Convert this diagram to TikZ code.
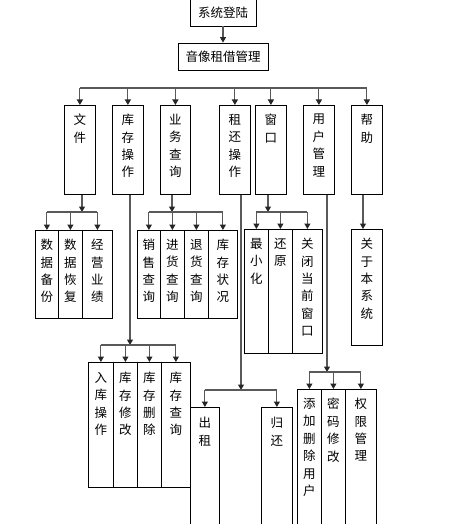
\documentclass[tikz,border=0pt]{standalone}
\usepackage{fontspec}
\newfontfamily\cjk{Noto Sans CJK SC}
\usetikzlibrary{arrows.meta}
\usetikzlibrary{positioning}

\begin{document}
\begin{tikzpicture}[%
  x=1pt, y=-1pt,
  box/.style={draw=black, line width=0.8pt, inner sep=0pt, anchor=north west},
  head box/.style={draw=black, line width=0.8pt, inner sep=0pt, minimum height=27pt,
    font=\cjk\fontsize{12.5}{14}\selectfont},
  caption/.style={inner sep=0pt, anchor=north, align=center,
    font=\cjk\fontsize{12.5}{17.4}\selectfont},
  link/.style={draw=black!65, line width=1.1pt},
  arr/.style={link, -{Triangle[width=6pt,length=5.5pt,color=black!85]}}
  ]
  \useasboundingbox (0,0) rectangle (456,524);

  % Draw the two title boxes
  \node[head box, minimum width=66pt] (sys) at (223,12.5) {系统登陆};
  \node[head box, minimum width=90pt] (mgmt) at (223,56.5) {音像租借管理};
  \draw[arr] (sys) -- (mgmt);

  % Draw the main menu boxes
  \foreach \name / \x / \w / \txt in {wj/64/31/{文\\件}, kc/112/31/{库\\存\\操\\作},
    yw/160/30/{业\\务\\查\\询}, zh/219/31/{租\\还\\操\\作}, ck/255/31/{窗\\口},
    yh/303/31/{用\\户\\管\\理}, bz/351/31/{帮\\助}}
  {
    \node[box, minimum width=\w pt, minimum height=89pt] (\name) at (\x,105) {};
    \node[caption, below=9pt of \name.north] (\name-t) {\txt};
  }
  \coordinate (j-top) at (223,88);
  \draw[link] (wj.north |- j-top) -- (bz.north |- j-top);
  \foreach \name in {wj,kc,yw,zh,ck,yh,bz}
    \draw[arr] (\name.north |- j-top) -- (\name.north);

  % File menu
  \foreach \name / \x / \w / \txt in {sjbf/35/23/{数\\据\\备\\份},
    sjhf/58/24/{数\\据\\恢\\复}, jyyj/82/30/{经\\营\\业\\绩}}
  {
    \node[box, minimum width=\w pt, minimum height=88pt] (\name) at (\x,230) {};
    \node[caption, below=9pt of \name.north] (\name-t) {\txt};
  }
  \coordinate (j-wj) at (82,212);
  \draw[arr] (wj.south -| j-wj) -- (j-wj);
  \draw[link] (sjbf.north |- j-wj) -- (jyyj.north |- j-wj);
  \foreach \name in {sjbf,sjhf,jyyj}
    \draw[arr] (\name.north |- j-wj) -- (\name.north);

  % Query menu
  \foreach \name / \x / \w / \txt in {xscx/137/23/{销\\售\\查\\询},
    jhcx/160/24/{进\\货\\查\\询}, thcx/184/24/{退\\货\\查\\询},
    kczk/208/29/{库\\存\\状\\况}}
  {
    \node[box, minimum width=\w pt, minimum height=88pt] (\name) at (\x,230) {};
    \node[caption, below=9pt of \name.north] (\name-t) {\txt};
  }
  \coordinate (j-yw) at (172,212);
  \draw[arr] (yw.south -| j-yw) -- (j-yw);
  \draw[link] (xscx.north |- j-yw) -- (kczk.north |- j-yw);
  \foreach \name in {xscx,jhcx,thcx,kczk}
    \draw[arr] (\name.north |- j-yw) -- (\name.north);

  % Window menu
  \foreach \name / \x / \w / \txt in {zxh/244/24/{最\\小\\化}, hy/268/24/{还\\原},
    gbck/292/30/{关\\闭\\当\\前\\窗\\口}}
  {
    \node[box, minimum width=\w pt, minimum height=124pt] (\name) at (\x,229) {};
    \node[caption, below=9pt of \name.north] (\name-t) {\txt};
  }
  \coordinate (j-ck) at (268,212);
  \draw[arr] (ck.south -| j-ck) -- (j-ck);
  \draw[link] (zxh.north |- j-ck) -- (gbck.north |- j-ck);
  \foreach \name in {zxh,hy,gbck}
    \draw[arr] (\name.north |- j-ck) -- (\name.north);

  % Help menu
  \node[box, minimum width=31pt, minimum height=116pt] (gy) at (351,229) {};
  \node[caption, below=9pt of gy.north] (gy-t) {关\\于\\本\\系\\统};
  \coordinate (j-bz) at (363,229);
  \draw[arr] (bz.south -| j-bz) -- (j-bz);

  % Stock menu
  \foreach \name / \x / \w / \txt in {rkcz/88/25/{入\\库\\操\\作},
    kcxg/113/24/{库\\存\\修\\改}, kcsc/137/24/{库\\存\\删\\除},
    kccx/161/29/{库\\存\\查\\询}}
  {
    \node[box, minimum width=\w pt, minimum height=125pt] (\name) at (\x,362) {};
    \node[caption, below=10pt of \name.north] (\name-t) {\txt};
  }
  \coordinate (j-kc) at (130,345);
  \draw[arr] (kc.south -| j-kc) -- (j-kc);
  \draw[link] (rkcz.north |- j-kc) -- (kccx.north |- j-kc);
  \foreach \name in {rkcz,kcxg,kcsc,kccx}
    \draw[arr] (\name.north |- j-kc) -- (\name.north);

  % Rent and return menu
  \foreach \name / \x / \w / \txt in {cz/190/29/{出\\租}, gh/261/31/{归\\还}}
  {
    \node[box, minimum width=\w pt, minimum height=140pt] (\name) at (\x,407) {};
    \node[caption, below=10pt of \name.north] (\name-t) {\txt};
  }
  \coordinate (j-zh) at (241,390);
  \draw[arr] (zh.south -| j-zh) -- (j-zh);
  \draw[link] (cz.north |- j-zh) -- (gh.north |- j-zh);
  \foreach \name in {cz,gh}
    \draw[arr] (\name.north |- j-zh) -- (\name.north);

  % User menu
  \foreach \name / \x / \w / \txt in {tjyh/297/24/{添\\加\\删\\除\\用\\户},
    mmxg/321/24/{密\\码\\修\\改}, qxgl/345/31/{权\\限\\管\\理}}
  {
    \node[box, minimum width=\w pt, minimum height=150pt] (\name) at (\x,389) {};
    \node[caption, below=9pt of \name.north] (\name-t) {\txt};
  }
  \coordinate (j-yh) at (327,372);
  \draw[arr] (yh.south -| j-yh) -- (j-yh);
  \draw[link] (tjyh.north |- j-yh) -- (qxgl.north |- j-yh);
  \foreach \name in {tjyh,mmxg,qxgl}
    \draw[arr] (\name.north |- j-yh) -- (\name.north);
\end{tikzpicture}
\end{document}
